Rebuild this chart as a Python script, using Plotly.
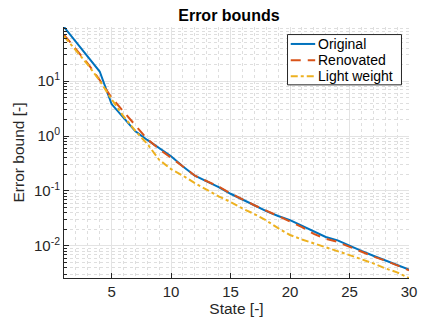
import plotly.graph_objects as go
import numpy as np

states = list(range(1, 31))
original = [97, 52, 28.5, 15, 3.83, 2.2, 1.22, 0.85, 0.60, 0.43,
            0.28, 0.19, 0.149, 0.118, 0.089, 0.069, 0.055, 0.043, 0.035, 0.0295,
            0.0234, 0.0183, 0.0145, 0.0126, 0.0100, 0.0081, 0.0066, 0.0055, 0.0045, 0.0037]
renovated = [70, 38, 21, 10.5, 5.0, 2.8, 1.6, 0.88, 0.58, 0.41,
             0.28, 0.19, 0.15, 0.12, 0.091, 0.07, 0.055, 0.044, 0.035, 0.028,
             0.022, 0.0165, 0.0135, 0.0118, 0.0096, 0.0079, 0.0064, 0.0054, 0.0044, 0.0036]
lightweight = [66, 36, 20, 10.2, 4.7, 2.3, 1.24, 0.72, 0.37, 0.25,
               0.19, 0.139, 0.105, 0.080, 0.063, 0.048, 0.038, 0.029, 0.021, 0.0158,
               0.0131, 0.0112, 0.0095, 0.0080, 0.0068, 0.0057, 0.0048, 0.0039, 0.0033, 0.0026]

series_names = ["Original", "Renovated", "Light weight"]
y_tickvals = [0.01, 0.1, 1, 10]
y_ticktext = ["10<sup>-2</sup>", "10<sup>-1</sup>", "10<sup>0</sup>", "10<sup>1</sup>"]
x_tickvals = [5, 10, 15, 20, 25, 30]

minor_y = [k * 10.0 ** d for d in range(-3, 2) for k in range(2, 10)]

FONT = "Liberation Sans, Arial, sans-serif"
AX = "#262626"
colors = ["#0072BD", "#D95319", "#EDB120"]
dashes = ["solid", "10px,7px", "7px,3px,3px,3px"]
series = [original, renovated, lightweight]

fig = go.Figure()
for name, vals, c, d in zip(series_names, series, colors, dashes):
    fig.add_trace(go.Scatter(x=states, y=vals, mode="lines", name=name,
                             line=dict(color=c, width=2, dash=d), showlegend=False))

# custom legend (layout only)
L = 64; W = 425 - 64 - 8; T = 27; H = 256
px = lambda v: (v - L) / W
py = lambda v: (T + H - v) / H
shapes = [dict(type="rect", xref="paper", yref="paper",
               x0=px(292.7), x1=px(409.3), y0=py(86), y1=py(34.7),
               line=dict(color=AX, width=1), fillcolor="white", layer="above")]
annotations = []
rows = [44.3, 61, 77.3]
for name, c, d, r in zip(series_names, colors, dashes, rows):
    shapes.append(dict(type="line", xref="paper", yref="paper",
                       x0=px(296), x1=px(321), y0=py(r), y1=py(r),
                       line=dict(color=c, width=2, dash=d), layer="above"))
    annotations.append(dict(text=name, xref="paper", yref="paper", x=px(322.0), y=py(r),
                            xanchor="left", yanchor="middle", showarrow=False,
                            font=dict(size=14, color="black", family=FONT)))

fig.update_layout(
    width=425, height=323,
    margin=dict(l=64, r=8, t=27, b=40),
    paper_bgcolor="white", plot_bgcolor="white",
    font=dict(family=FONT, color=AX, size=14),
    title=dict(text="<b>Error bounds</b>", x=0.478, xref="paper", xanchor="center",
               y=1 - 15 / 323, yanchor="middle", font=dict(size=16, color="black")),
    showlegend=False,
    shapes=shapes, annotations=annotations,
)
fig.update_xaxes(
    range=[1, 30], tickvals=x_tickvals, ticks="inside", ticklen=5, tickcolor=AX,
    showline=True, linecolor=AX, linewidth=1, mirror=False,
    showgrid=True, gridcolor="#e3e3e3", gridwidth=1, zeroline=False,
    minor=dict(dtick=1, showgrid=True, gridcolor="#dedede", griddash="dot", ticks=""),
    title=dict(text="State [-]", font=dict(size=15.5), standoff=4),
    tickfont=dict(size=15), ticklabeloverflow="allow",
)
fig.update_yaxes(
    type="log", range=[np.log10(0.0026), np.log10(97)],
    tickvals=y_tickvals, ticktext=y_ticktext, ticks="inside", ticklen=5, tickcolor=AX,
    showline=True, linecolor=AX, linewidth=1, mirror=False,
    showgrid=True, gridcolor="#e3e3e3", gridwidth=1, zeroline=False,
    minor=dict(tickvals=minor_y, showgrid=True, gridcolor="#dedede", griddash="dot",
               ticks="inside", ticklen=3, tickcolor=AX),
    title=dict(text="Error bound [-]", font=dict(size=15.5), standoff=5),
    tickfont=dict(size=15),
)

fig.write_html("out.html")
